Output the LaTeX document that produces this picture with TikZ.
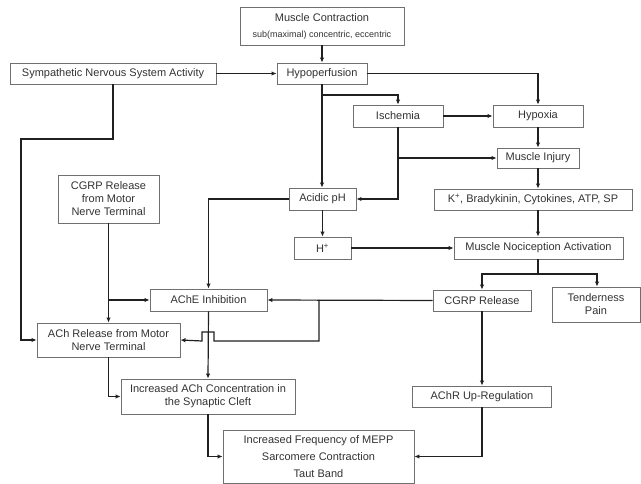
\documentclass[tikz,border=0pt]{standalone}
\usepackage{fontspec}
\setmainfont{Liberation Sans}
\usetikzlibrary{arrows.meta}
\definecolor{boxc}{HTML}{707070}
\definecolor{linec}{HTML}{202020}
\definecolor{txtc}{HTML}{333333}
\begin{document}
\begin{tikzpicture}[x=1pt,y=-1pt,
  box/.style={draw=boxc,line width=0.9pt,fill=white,inner sep=0pt,align=center,
    text=txtc,font=\fontsize{11}{13}\selectfont},
  conn/.style={draw=linec,line width=1.2pt,-{Latex[length=5pt,width=4.5pt]}},
  plain/.style={draw=linec,line width=1.2pt}]
\useasboundingbox (0,0) rectangle (641,484);
% nodes
\node[box,minimum width=164pt,minimum height=38pt] (mc) at (322,26)
  {Muscle Contraction\\[3pt]{\fontsize{9}{11}\selectfont sub(maximal) concentric, eccentric}};
\node[box,minimum width=206pt,minimum height=21pt] (sns) at (113,73.5) {Sympathetic Nervous System Activity};
\node[box,minimum width=90pt,minimum height=21pt] (hyp) at (322,73.5) {Hypoperfusion};
\node[box,minimum width=90pt,minimum height=22pt] (isch) at (398,116) {Ischemia};
\node[box,minimum width=90pt,minimum height=22pt] (hypox) at (538,116) {Hypoxia};
\node[box,minimum width=82pt,minimum height=20pt] (inj) at (538,158) {Muscle Injury};
\node[box,minimum width=198pt,minimum height=21pt] (kb) at (533,199.5) {K\textsuperscript{+}, Bradykinin, Cytokines, ATP, SP};
\node[box,minimum width=169pt,minimum height=22pt] (noc) at (538.5,248) {Muscle Nociception Activation};
\node[box,minimum width=67pt,minimum height=22pt] (acid) at (322.5,199) {Acidic pH};
\node[box,minimum width=57pt,minimum height=22pt] (hp) at (322.5,248) {H\textsuperscript{+}};
\node[box,minimum width=101pt,minimum height=48pt] (cgrpm) at (108.5,199) {CGRP Release\\from Motor\\Nerve Terminal};
\node[box,minimum width=117pt,minimum height=22pt] (ache) at (208.5,300) {AChE Inhibition};
\node[box,minimum width=98pt,minimum height=21pt] (cgrp) at (482,300.5) {CGRP Release};
\node[box,minimum width=88pt,minimum height=35pt] (tend) at (596,304.5) {Tenderness\\Pain};
\node[box,minimum width=143pt,minimum height=34pt] (achr) at (108.5,340) {ACh Release from Motor\\Nerve Terminal};
\node[box,minimum width=174pt,minimum height=35pt] (inc) at (208,396.5) {Increased ACh Concentration in\\the Synaptic Cleft};
\node[box,minimum width=139pt,minimum height=21pt] (up) at (482,396.5) {AChR Up-Regulation};
\node[box,minimum width=191pt,minimum height=53pt] (mepp) at (318.5,456.5)
  {Increased Frequency of MEPP\\[4pt]Sarcomere Contraction\\[4pt]Taut Band};
% junction coordinates
\coordinate (j1) at (322,95);
\coordinate (j2) at (398,158);
\coordinate (j3) at (538,274);
\coordinate (j4) at (108.5,300);
\coordinate (j5) at (319,300);
% connectors
\draw[conn] (mc.south) -- (hyp.north);
\draw[conn] (sns.east) -- (hyp.west);
\draw[conn] (hyp.east) -| (hypox.north);
\draw[conn] (hyp.south) -- (acid.north -| hyp.south);
\draw[conn] (j1) -| (isch.north);
\draw[conn] (isch.east) -- (hypox.west);
\draw[conn] (isch.south) |- (inj.west);
\draw[conn] (j2) |- (acid.east);
\draw[conn] (hypox.south) -- (inj.north);
\draw[conn] (inj.south) -- (kb.north -| inj.south);
\draw[conn] (kb.south -| inj.south) -- (noc.north -| inj.south);
\draw[conn] (acid.south) -- (hp.north);
\draw[conn] (hp.east) -- (noc.west);
\draw[plain] (noc.south -| j3) -- (j3);
\draw[conn] (j3) -| (cgrp.north);
\draw[conn] (j3) -| (tend.north -| 597,0);
\draw[conn] (acid.west) -| (ache.north);
\draw[conn] (cgrpm.south) -- (achr.north);
\draw[conn] (j4) -- (ache.west);
\draw[conn] (cgrp.west) -- (ache.east);
\draw[conn] (j5) -- (319,341) -- (214,341) -- (214,332) -- (202,332) -- (202,341) -- (achr.east);
\draw[conn] (ache.south) -- (inc.north);
\draw[conn] (sns.south) -- (113,139) -- (21,139) |- (achr.west);
\draw[conn] (achr.south) |- (inc.west);
\draw[conn] (inc.south) |- (mepp.west);
\draw[conn] (cgrp.south) -- (up.north);
\draw[conn] (up.south) |- (mepp.east);
\end{tikzpicture}
\end{document}
